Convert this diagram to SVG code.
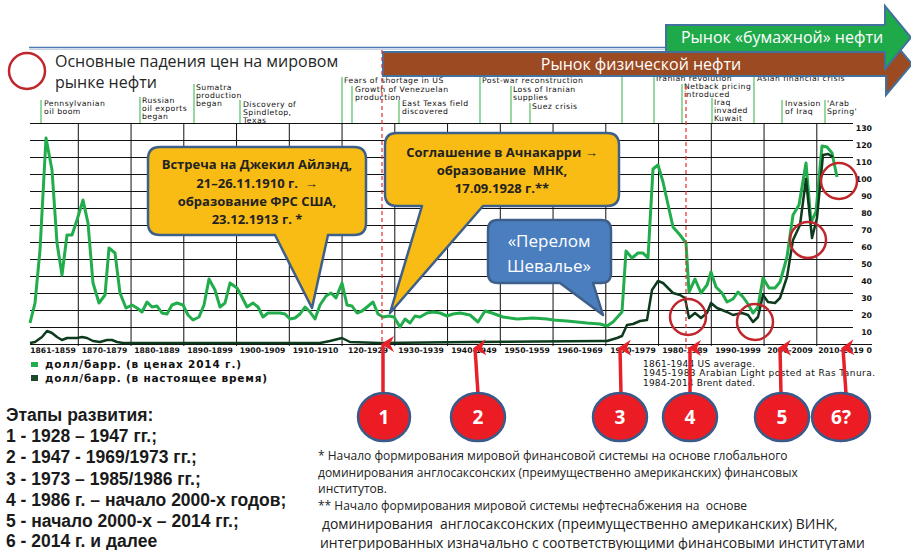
<svg xmlns="http://www.w3.org/2000/svg" width="911" height="550" viewBox="0 0 911 550">
  <defs>
    <marker id="redHead" markerUnits="userSpaceOnUse" markerWidth="16" markerHeight="14" refX="8" refY="2" orient="auto-start-reverse" viewBox="0 0 16 14">
      <path d="M0,13 L8,0 L16,13 L8,9 Z" fill="#e8202a"/>
    </marker>
  </defs>
  <style>
    .grid { stroke: #111; stroke-width: 1; fill: none; }
    .ev { font-family: "DejaVu Sans", sans-serif; font-size: 7.7px; letter-spacing: 0.45px; fill: #111; }
    .evline { stroke: #5ec46e; stroke-width: 1.3; }
    .dec { font-family: "DejaVu Sans", sans-serif; font-weight: bold; font-size: 7.6px; fill: #111; }
    .yax { font-family: "DejaVu Sans", sans-serif; font-weight: bold; font-size: 7.8px; fill: #111; text-anchor: end; }
    .leg { font-family: "DejaVu Sans", sans-serif; font-weight: bold; font-size: 10.5px; fill: #111; }
    .note { font-family: "DejaVu Sans", sans-serif; font-size: 9px; fill: #111; }
    .fall { fill: none; stroke: #c0272d; stroke-width: 2.5; }
    .dash { stroke: #e52d2d; stroke-width: 1.2; stroke-dasharray: 4 3; }
    .callout { fill: #f9bc15; stroke: #3e5f8a; stroke-width: 2.5; stroke-linejoin: round; }
    .calloutB { fill: #4a7ebf; stroke: #3e5f8a; stroke-width: 2.5; stroke-linejoin: round; }
    .ctext { font-family: "Open Sans", sans-serif; font-weight: bold; font-size: 13px; fill: #222; text-anchor: middle; }
    .btext { font-family: "Open Sans", sans-serif; font-size: 17px; fill: #fff; text-anchor: middle; }
    .stage { font-family: "Liberation Sans", sans-serif; font-weight: bold; font-size: 17.5px; fill: #1a1a1a; }
    .foot { font-family: "Open Sans", sans-serif; font-size: 12px; fill: #222; white-space: pre; }
    .foot2 { font-family: "Open Sans", sans-serif; font-size: 13.9px; fill: #222; white-space: pre; }
    .num { fill: #ec1c24; stroke: #3a5a8a; stroke-width: 2.5; }
    .numt { font-family: "Open Sans", sans-serif; font-weight: bold; font-size: 19px; fill: #fff; text-anchor: middle; }
    .uparrow { stroke: #e8202a; stroke-width: 3.5; fill: none; }
    .mkt { stroke: #41719c; stroke-width: 2; stroke-linejoin: miter; }
    .mkttext { font-family: "Open Sans", sans-serif; font-size: 16px; fill: #fff; text-anchor: middle; }
  </style>

  <!-- title rule -->
  <line x1="29" y1="47.5" x2="700" y2="47.5" stroke="#4a78b0" stroke-width="1.5"/>
  <line x1="29" y1="49.5" x2="700" y2="49.5" stroke="#c5d3e6" stroke-width="1"/>

  <!-- legend for red circles -->
  <g id="legend-falls">
    <circle cx="27" cy="71" r="18" class="fall" stroke-width="3"/>
    <text x="55" y="67" font-family="Open Sans, sans-serif" font-size="16" fill="#262626">Основные падения цен на мировом</text>
    <text x="55" y="88" font-family="Open Sans, sans-serif" font-size="16" fill="#262626">рынке нефти</text>
  </g>

  <!-- historical event markers -->
  <g id="events">
    <line class="evline" x1="41" y1="100" x2="41" y2="123"/>
    <text class="ev" x="44" y="106">Pennsylvanian</text>
    <text class="ev" x="44" y="114">oil boom</text>
    <line class="evline" x1="140" y1="97" x2="140" y2="123"/>
    <text class="ev" x="142" y="103">Russian</text>
    <text class="ev" x="142" y="111">oil exports</text>
    <text class="ev" x="142" y="119">began</text>
    <line class="evline" x1="194" y1="84" x2="194" y2="123"/>
    <text class="ev" x="196" y="90">Sumatra</text>
    <text class="ev" x="196" y="98">production</text>
    <text class="ev" x="196" y="106">began</text>
    <line class="evline" x1="240" y1="100" x2="240" y2="123"/>
    <text class="ev" x="243" y="107">Discovery of</text>
    <text class="ev" x="243" y="115">Spindletop,</text>
    <text class="ev" x="243" y="123">Texas</text>
    <line class="evline" x1="342" y1="77" x2="342" y2="123"/>
    <text class="ev" x="344" y="83">Fears of shortage in US</text>
    <line class="evline" x1="352" y1="86" x2="352" y2="123"/>
    <text class="ev" x="355" y="92">Growth of Venezuelan</text>
    <text class="ev" x="355" y="100">production</text>
    <line class="evline" x1="399" y1="100" x2="399" y2="123"/>
    <text class="ev" x="402" y="106">East Texas field</text>
    <text class="ev" x="402" y="114">discovered</text>
    <line class="evline" x1="480" y1="77" x2="480" y2="123"/>
    <text class="ev" x="482" y="83">Post-war reconstruction</text>
    <line class="evline" x1="511" y1="86" x2="511" y2="123"/>
    <text class="ev" x="513" y="92">Loss of Iranian</text>
    <text class="ev" x="513" y="100">supplies</text>
    <line class="evline" x1="530" y1="103" x2="530" y2="123"/>
    <text class="ev" x="532" y="109">Suez crisis</text>
    <line class="evline" x1="622" y1="77" x2="622" y2="123"/>
    <line class="evline" x1="654" y1="77" x2="654" y2="123"/>
    <text class="ev" x="656" y="81">Iranian revolution</text>
    <line class="evline" x1="682" y1="84" x2="682" y2="123"/>
    <text class="ev" x="684" y="89">Netback pricing</text>
    <text class="ev" x="684" y="96.5">introduced</text>
    <line class="evline" x1="712" y1="98" x2="712" y2="123"/>
    <text class="ev" x="714" y="105">Iraq</text>
    <text class="ev" x="714" y="113">invaded</text>
    <text class="ev" x="714" y="121">Kuwait</text>
    <line class="evline" x1="754" y1="77" x2="754" y2="123"/>
    <text class="ev" x="757" y="81">Asian financial crisis</text>
    <line class="evline" x1="782" y1="100" x2="782" y2="123"/>
    <text class="ev" x="785" y="106">Invasion</text>
    <text class="ev" x="785" y="114">of Iraq</text>
    <line class="evline" x1="825" y1="100" x2="825" y2="123"/>
    <text class="ev" x="827" y="106">'Arab</text>
    <text class="ev" x="827" y="114">Spring'</text>
  </g>

  <!-- market arrows -->
  <g id="physical-market">
    <path class="mkt" fill="#9b4a22" d="M383,52 H886 V33 L912,64 L886,95 V76 H383 Z"/>
    <text class="mkttext" x="641" y="70">Рынок физической нефти</text>
  </g>
  <g id="paper-market">
    <path class="mkt" fill="#1faa4a" d="M666,25 H885 V6 L911,37.5 L885,69 V52 H666 Z"/>
    <text class="mkttext" x="782" y="43">Рынок «бумажной» нефти</text>
  </g>

  <!-- chart grid -->
  <g id="grid">
    <path class="grid" d="M30,123.5H853 M30,140.5H853 M30,157.5H853 M30,174.5H853 M30,191.5H853 M30,208.5H853 M30,225.5H853 M30,242.5H853 M30,259.5H853 M30,276.5H853 M30,293.5H853 M30,310.5H853 M30,327.5H853"/>
    <path class="grid" stroke-width="1.4" d="M30,344.5H872"/>
    <path class="grid" d="M78.3,123.5V346 M131.05,123.5V346 M183.8,123.5V346 M236.55,123.5V346 M289.3,123.5V346 M342.05,123.5V346 M394.8,123.5V346 M447.55,123.5V346 M500.3,123.5V346 M553.05,123.5V346 M605.8,123.5V346 M658.55,123.5V346 M711.3,123.5V346 M764.05,123.5V346 M816.8,123.5V346"/>
  </g>

  <!-- value axis -->
  <g id="value-axis">
    <text class="yax" x="872" y="131">130</text>
    <text class="yax" x="872" y="148">120</text>
    <text class="yax" x="872" y="165">110</text>
    <text class="yax" x="872" y="182">100</text>
    <text class="yax" x="872" y="199">90</text>
    <text class="yax" x="872" y="216">80</text>
    <text class="yax" x="872" y="233">70</text>
    <text class="yax" x="872" y="250">60</text>
    <text class="yax" x="872" y="267">50</text>
    <text class="yax" x="872" y="284">40</text>
    <text class="yax" x="872" y="301">30</text>
    <text class="yax" x="872" y="318">20</text>
    <text class="yax" x="872" y="335">10</text>
    <text class="yax" x="872" y="353">0</text>
  </g>

  <!-- decade axis -->
  <g id="decade-axis" text-anchor="middle">
    <text class="dec" x="53" y="353">1861-1859</text>
    <text class="dec" x="104.5" y="353">1870-1879</text>
    <text class="dec" x="157" y="353">1880-1889</text>
    <text class="dec" x="210" y="353">1890-1899</text>
    <text class="dec" x="262.5" y="353">1900-1909</text>
    <text class="dec" x="315.5" y="353">1910-1910</text>
    <text class="dec" x="368" y="353">120-1929</text>
    <text class="dec" x="421" y="353">1930-1939</text>
    <text class="dec" x="474" y="353">1940-1949</text>
    <text class="dec" x="527" y="353">1950-1959</text>
    <text class="dec" x="580" y="353">1960-1969</text>
    <text class="dec" x="633" y="353">1970-1979</text>
    <text class="dec" x="685" y="353">1980-1989</text>
    <text class="dec" x="738" y="353">1990-1999</text>
    <text class="dec" x="790" y="353">2000-2009</text>
    <text class="dec" x="841" y="353">2010-2019</text>
  </g>

  <!-- price series -->
  <g id="series">
    <polyline fill="none" stroke="#22ad4c" stroke-width="3" stroke-linejoin="round" points="30,323 35,303 40,250 46,138 52,170 57,243 62,275 67,235 72,235 77,220 83,200 88,223 93,283 99,303 105,295 109,248 115,253 120,293 126,308 132,305 137,308 142,312 147,302 152,307 157,306 162,313 167,314 172,305 177,303 183,305 188,315 193,320 199,317 204,305 209,279 215,290 220,307 225,303 230,283 237,288 242,297 247,307 253,303 258,307 263,317 268,313 273,313 280,313 285,314 290,319 295,318 300,314 305,307 310,312 315,319 320,305 326,296 331,293 336,298 342,283 347,305 352,306 357,313 362,311 367,307 373,302 378,314 383,317 389,316 394,317 400,327 405,319 410,323 415,316 420,317 427,313 433,312 440,313 447,316 453,314 460,313 470,315 478,322 485,311 492,313 503,317 517,319 533,318 547,319 553,320 567,321 587,323 600,324 607,326 613,322 622,312 626,251 632,258 638,253 643,253 648,258 653,169 658,165 663,182 673,227 680,235 686,243 689,292 695,279 701,293 707,285 711,272 716,287 722,293 727,302 733,299 738,292 743,297 748,304 753,313 758,307 763,278 769,288 775,288 780,282 787,257 793,215 799,205 806,163 811,222 816,212 822,146 827,147 832,153 837,177"/>
    <polyline fill="none" stroke="#0e3a1e" stroke-width="2.5" stroke-linejoin="round" points="30,343 35,342 42,337 47,331 52,333 57,337 62,340 67,338 77,338 82,337 87,338 93,341 100,342 107,340 112,340 117,342 123,343 200,343 320,343 330,341 342,338 350,342 380,343 470,342 600,341 607,341 617,338 622,336 627,325 633,324 640,321 647,320 652,290 658,281 663,283 673,293 680,295 685,298 689,318 695,313 701,318 707,313 711,303 717,308 727,312 733,315 742,313 748,315 753,322 758,317 763,295 768,302 775,303 780,298 787,277 793,240 800,225 806,179 812,238 817,218 823,155 828,154 833,157"/>
  </g>

  <!-- turning points -->
  <line class="dash" x1="382" y1="50" x2="382" y2="344"/>
  <line class="dash" x1="686" y1="86" x2="686" y2="350"/>

  <!-- price falls -->
  <g id="falls">
    <circle class="fall" cx="688" cy="317" r="18"/>
    <circle class="fall" cx="755" cy="322" r="18"/>
    <circle class="fall" cx="808" cy="240" r="18"/>
    <circle class="fall" cx="839" cy="181" r="18"/>
  </g>

  <!-- callouts -->
  <g id="jekyll-island">
    <path class="callout" d="M160,147 H354 Q366,147 366,159 V223 Q366,235 354,235 H328 L312,308 L275,235 H160 Q148,235 148,223 V159 Q148,147 160,147 Z"/>
    <text class="ctext" x="257" y="169">Встреча на Джекил Айлэнд,</text>
    <text class="ctext" x="257" y="188" style="white-space:pre">21–26.11.1910 г.  →</text>
    <text class="ctext" x="257" y="206">образование ФРС США,</text>
    <text class="ctext" x="257" y="224">23.12.1913 г. *</text>
  </g>
  <g id="achnacarry">
    <path class="callout" d="M397,133 H607 Q619,133 619,145 V194 Q619,206 607,206 H483 L390,313 L422,206 H397 Q385,206 385,194 V145 Q385,133 397,133 Z"/>
    <text class="ctext" x="502" y="157">Соглашение в Ачнакарри →</text>
    <text class="ctext" x="502" y="175" style="white-space:pre">образование  МНК,</text>
    <text class="ctext" x="502" y="193">17.09.1928 г.**</text>
  </g>
  <g id="chevalier">
    <path class="calloutB" d="M498,220 H601 Q611,220 611,230 V273 Q611,283 601,283 H593 L603,315 L560,283 H498 Q488,283 488,273 V230 Q488,220 498,220 Z"/>
    <text class="btext" x="549" y="247">«Перелом</text>
    <text class="btext" x="549" y="272">Шевалье»</text>
  </g>

  <!-- series legend -->
  <g id="series-legend">
    <rect x="31" y="362" width="7" height="5" fill="#22ad4c"/>
    <text class="leg" x="45" y="368" textLength="196" lengthAdjust="spacing">долл/барр. (в ценах 2014 г.)</text>
    <rect x="31" y="375" width="7" height="6" fill="#1e4a2a"/>
    <text class="leg" x="45" y="382" textLength="222" lengthAdjust="spacing">долл/барр. (в настоящее время)</text>
  </g>

  <!-- source note -->
  <g id="source-note">
    <text class="note" x="643" y="366.5" textLength="112" lengthAdjust="spacing">1861-1944 US average.</text>
    <text class="note" x="643" y="376" textLength="232" lengthAdjust="spacing">1945-1983 Arabian Light posted at Ras Tanura.</text>
    <text class="note" x="643" y="385.5" textLength="112" lengthAdjust="spacing">1984-2014 Brent dated.</text>
  </g>

  <!-- stage pointers -->
  <g id="connectors">
    <line class="uparrow" x1="383" y1="394" x2="383" y2="344" marker-end="url(#redHead)"/>
    <line class="uparrow" x1="478" y1="394" x2="475" y2="348" marker-end="url(#redHead)"/>
    <line class="uparrow" x1="621" y1="394" x2="620" y2="348" marker-end="url(#redHead)"/>
    <line class="uparrow" x1="690" y1="394" x2="690" y2="348" marker-end="url(#redHead)"/>
    <line class="uparrow" x1="781" y1="394" x2="780" y2="348" marker-end="url(#redHead)"/>
    <line class="uparrow" x1="846" y1="394" x2="843" y2="348" marker-end="url(#redHead)"/>
  </g>

  <g id="stage-1"><ellipse class="num" cx="384" cy="417" rx="26" ry="24"/><text class="numt" x="384" y="424">1</text></g>
  <g id="stage-2"><ellipse class="num" cx="478" cy="417" rx="27" ry="24"/><text class="numt" x="478" y="424">2</text></g>
  <g id="stage-3"><ellipse class="num" cx="620" cy="417" rx="27" ry="24"/><text class="numt" x="620" y="424">3</text></g>
  <g id="stage-4"><ellipse class="num" cx="690" cy="417" rx="27" ry="24"/><text class="numt" x="690" y="424">4</text></g>
  <g id="stage-5"><ellipse class="num" cx="782" cy="417" rx="27" ry="24"/><text class="numt" x="782" y="424">5</text></g>
  <g id="stage-6"><ellipse class="num" cx="841" cy="417" rx="29" ry="24"/><text class="numt" x="841" y="424">6?</text></g>

  <!-- stages list -->
  <g id="stages">
    <text class="stage" x="6" y="421">Этапы развития:</text>
    <text class="stage" x="6" y="442">1 - 1928 – 1947 гг.;</text>
    <text class="stage" x="6" y="463">2 - 1947 - 1969/1973 гг.;</text>
    <text class="stage" x="6" y="485">3 - 1973 – 1985/1986 гг.;</text>
    <text class="stage" x="6" y="506">4 - 1986 г. – начало 2000-х годов;</text>
    <text class="stage" x="6" y="527">5 - начало 2000-х – 2014 гг.;</text>
    <text class="stage" x="6" y="547">6 - 2014 г. и далее</text>
  </g>

  <!-- footnotes -->
  <g id="footnotes">
    <text class="foot" x="318" y="460">* Начало формирования мировой финансовой системы на основе глобального</text>
    <text class="foot" x="318" y="477">доминирования англосаксонских (преимущественно американских) финансовых</text>
    <text class="foot" x="318" y="493">институтов.</text>
    <text class="foot" x="318" y="510">** Начало формирования мировой системы нефтеснабжения на  основе</text>
    <text class="foot2" x="322" y="528.5">доминирования  англосаксонских (преимущественно американских) ВИНК,</text>
    <text class="foot2" x="320" y="547.5">интегрированных изначально с соответствующими финансовыми институтами</text>
  </g>
</svg>
